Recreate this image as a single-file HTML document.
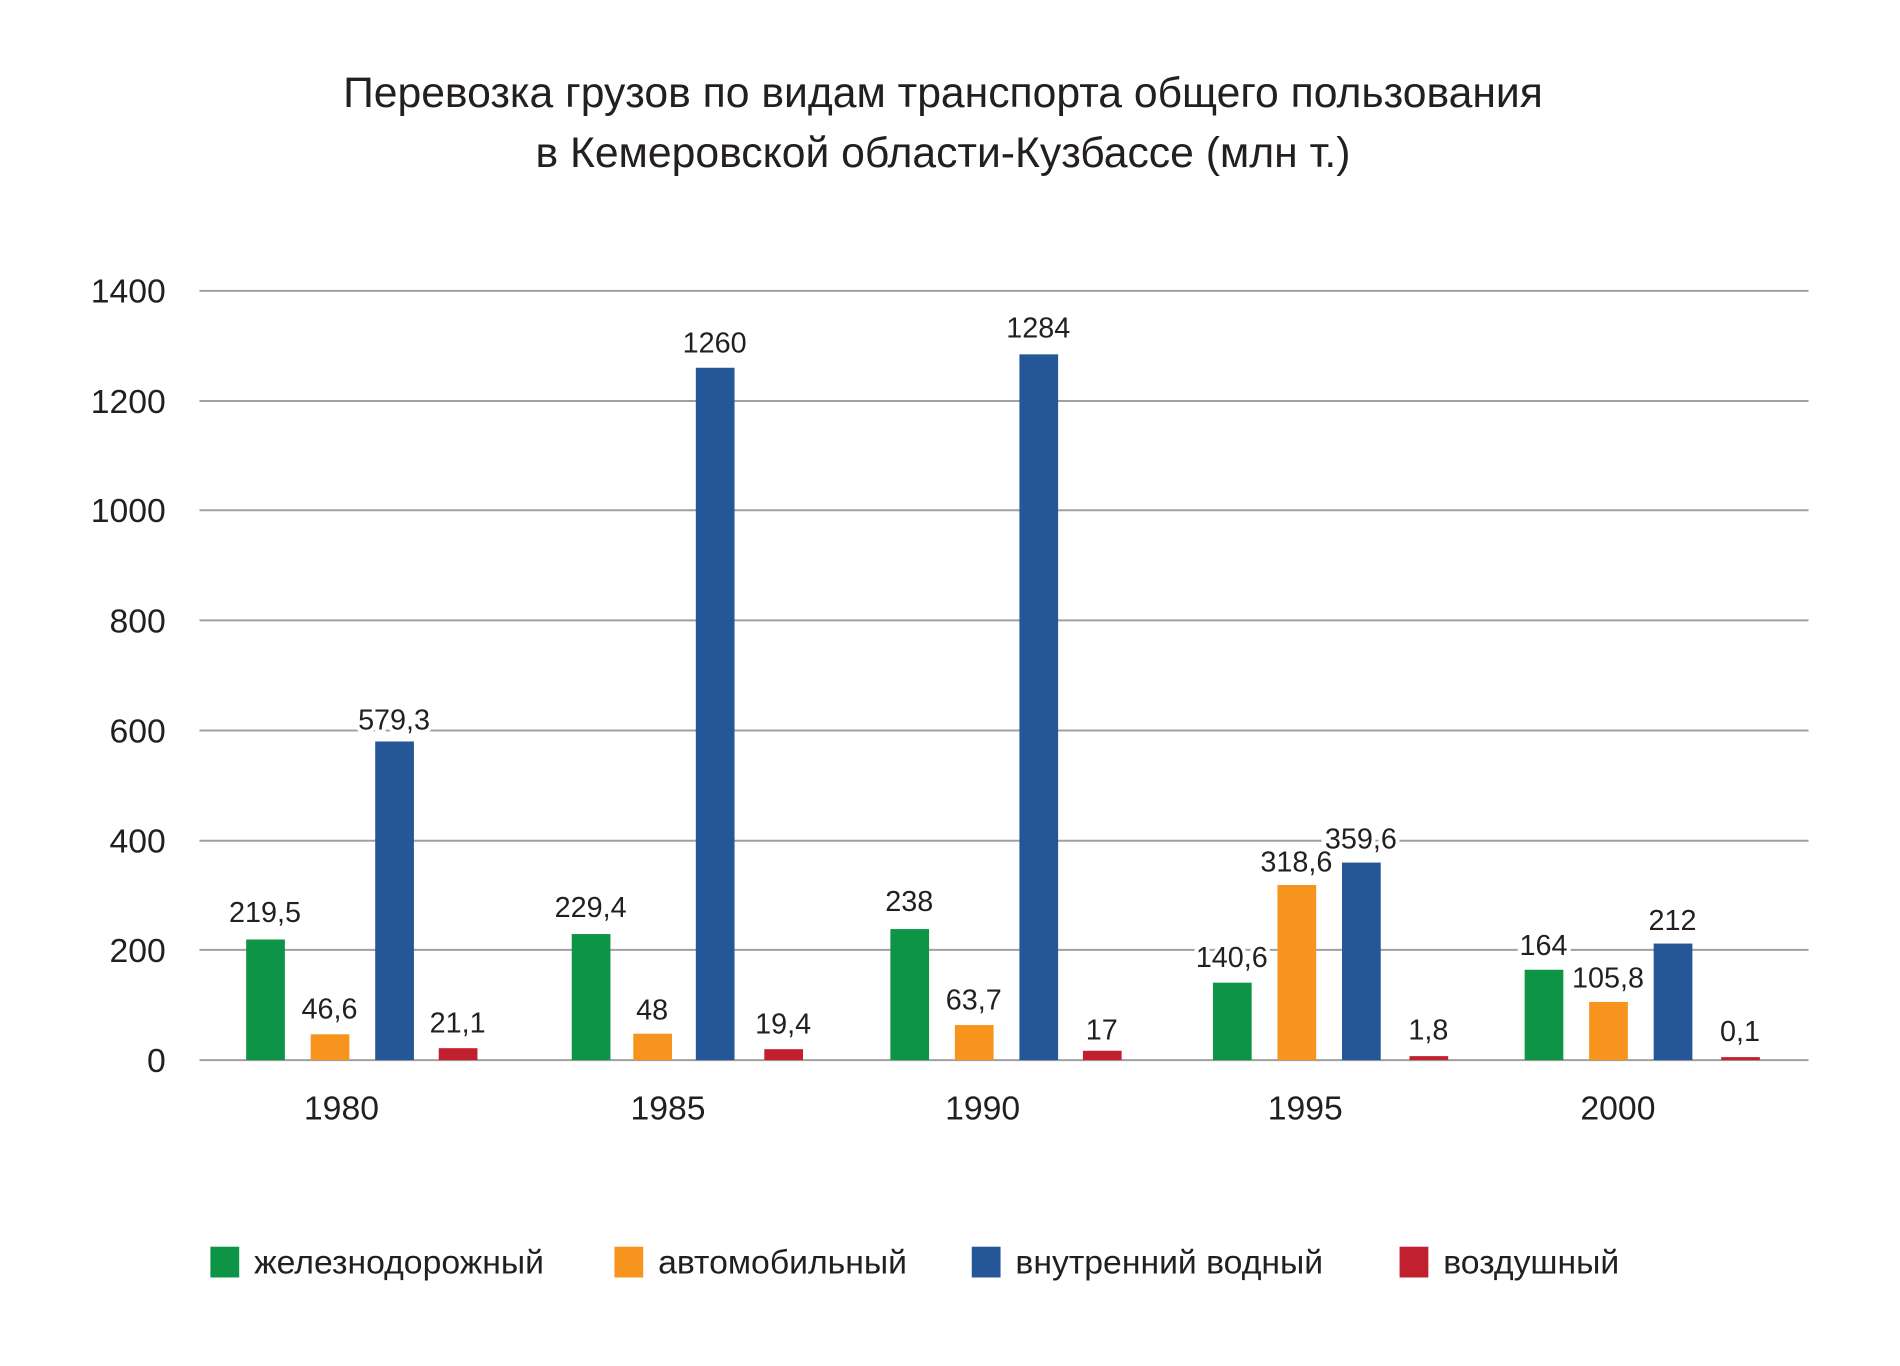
<!DOCTYPE html>
<html><head><meta charset="utf-8"><style>
html,body{margin:0;padding:0;background:#fff;}
svg{display:block;font-family:"Liberation Sans",sans-serif;}
.t{fill:#231f20;}
.dl{font-size:29px;fill:#231f20;text-anchor:middle;paint-order:stroke;stroke:#fff;stroke-width:8px;}
.yl{font-size:34px;fill:#231f20;text-anchor:end;}
.xl{font-size:34px;fill:#231f20;text-anchor:middle;}
.lg{font-size:34px;fill:#231f20;}
</style></head><body>
<svg width="1900" height="1366" viewBox="0 0 1900 1366">
<g transform="scale(0.9926)">
<text x="950" y="108" text-anchor="middle" font-size="43" class="t">Перевозка грузов по видам транспорта общего пользования</text>
<text x="950" y="168" text-anchor="middle" font-size="43" class="t">в Кемеровской области-Кузбассе (млн т.)</text>
<g stroke="#a0a0a0" stroke-width="2">
<line x1="201" x2="1822" y1="293" y2="293"/>
<line x1="201" x2="1822" y1="404" y2="404"/>
<line x1="201" x2="1822" y1="514" y2="514"/>
<line x1="201" x2="1822" y1="625" y2="625"/>
<line x1="201" x2="1822" y1="736" y2="736"/>
<line x1="201" x2="1822" y1="847" y2="847"/>
<line x1="201" x2="1822" y1="957" y2="957"/>
<line x1="201" x2="1822" y1="1068" y2="1068"/>
</g>
<g class="yl">
<text x="167" y="305">1400</text><text x="167" y="416">1200</text><text x="167" y="526">1000</text>
<text x="167" y="637">800</text><text x="167" y="748">600</text><text x="167" y="859">400</text>
<text x="167" y="969">200</text><text x="167" y="1080">0</text>
</g>
<g>
<rect x="248" y="946.5" width="39" height="121.5" fill="#0e9447"/>
<rect x="313" y="1042" width="39" height="26" fill="#f7941d"/>
<rect x="378" y="747" width="39" height="321" fill="#255697"/>
<rect x="442" y="1056" width="39" height="12" fill="#c1202f"/>
<rect x="576" y="941" width="39" height="127" fill="#0e9447"/>
<rect x="638" y="1041.4" width="39" height="26.6" fill="#f7941d"/>
<rect x="701" y="370.5" width="39" height="697.5" fill="#255697"/>
<rect x="770" y="1057" width="39" height="11" fill="#c1202f"/>
<rect x="897" y="936" width="39" height="132" fill="#0e9447"/>
<rect x="962" y="1032.7" width="39" height="35.3" fill="#f7941d"/>
<rect x="1027" y="357" width="39" height="711" fill="#255697"/>
<rect x="1091" y="1058.6" width="39" height="9.4" fill="#c1202f"/>
<rect x="1222" y="990" width="39" height="78" fill="#0e9447"/>
<rect x="1287" y="891.6" width="39" height="176.4" fill="#f7941d"/>
<rect x="1352" y="869" width="39" height="199" fill="#255697"/>
<rect x="1420" y="1064" width="39" height="4" fill="#c1202f"/>
<rect x="1536" y="977" width="39" height="91" fill="#0e9447"/>
<rect x="1601" y="1009.4" width="39" height="58.6" fill="#f7941d"/>
<rect x="1666" y="950.6" width="39" height="117.4" fill="#255697"/>
<rect x="1734" y="1065" width="39" height="3" fill="#c1202f"/>
</g>
<g class="dl">
<text x="267" y="929">219,5</text><text x="332" y="1026">46,6</text><text x="397" y="735">579,3</text><text x="461" y="1040">21,1</text>
<text x="595" y="924">229,4</text><text x="657" y="1027">48</text><text x="720" y="355">1260</text><text x="789" y="1041">19,4</text>
<text x="916" y="918">238</text><text x="981" y="1017">63,7</text><text x="1046" y="340">1284</text><text x="1110" y="1047">17</text>
<text x="1241" y="974">140,6</text><text x="1306" y="878">318,6</text><text x="1371" y="855">359,6</text><text x="1439" y="1047">1,8</text>
<text x="1555" y="962">164</text><text x="1620" y="995">105,8</text><text x="1685" y="937">212</text><text x="1753" y="1049">0,1</text>
</g>
<g class="xl">
<text x="344" y="1128">1980</text><text x="673" y="1128">1985</text><text x="990" y="1128">1990</text>
<text x="1315" y="1128">1995</text><text x="1630" y="1128">2000</text>
</g>
<rect x="212" y="1256" width="29" height="31" fill="#0e9447"/>
<text x="256" y="1283" class="lg">железнодорожный</text>
<rect x="619" y="1256" width="29" height="31" fill="#f7941d"/>
<text x="663" y="1283" class="lg">автомобильный</text>
<rect x="979" y="1256" width="29" height="31" fill="#255697"/>
<text x="1023" y="1283" class="lg">внутренний водный</text>
<rect x="1410" y="1256" width="29" height="31" fill="#c1202f"/>
<text x="1454" y="1283" class="lg">воздушный</text>
</g>
</svg>
</body></html>
